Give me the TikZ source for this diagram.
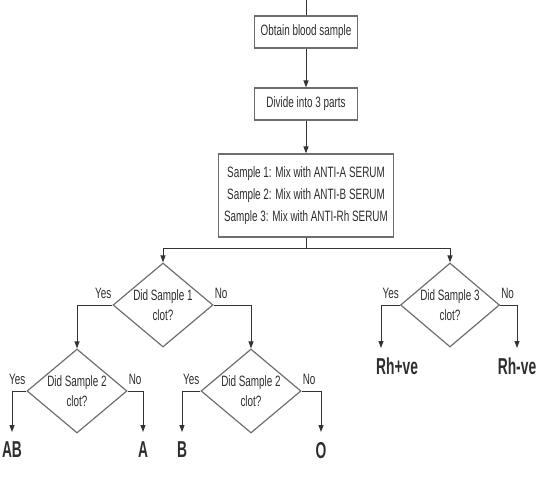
\documentclass[tikz,border=0pt]{standalone}
\usepackage{fontspec}
\setmainfont{Liberation Sans}[FakeStretch=0.66]
\newfontfamily\resfont{Liberation Sans Bold}[FakeStretch=0.6]
\usetikzlibrary{shapes.geometric,arrows.meta}
\definecolor{txt}{HTML}{2E2E2E}
\definecolor{bord}{HTML}{6E6E6E}
\definecolor{lin}{HTML}{333333}
\begin{document}
\begin{tikzpicture}[x=1pt,y=-1pt,
 every node/.style={text=txt},
 box/.style={draw=bord, line width=1.2pt, minimum width=103pt, minimum height=32pt, inner sep=0pt, font=\fontsize{15}{22}\selectfont, align=center},
 dec/.style={draw=bord, line width=1.2pt, diamond, aspect=1.19, minimum width=100pt, minimum height=84pt, inner sep=0pt, font=\fontsize{15}{20}\selectfont, align=center},
 lbl/.style={font=\fontsize{15}{16}\selectfont, inner sep=1pt},
 res/.style={font=\fontsize{23}{24}\resfont, inner sep=0pt, outer ysep=10pt},
 con/.style={draw=lin, line width=1pt},
 arr/.style={con, -{Triangle[length=7pt,width=5pt]}}]
\useasboundingbox (0,0) rectangle (546,479);
\coordinate (top) at (306,0);
\node[box] (b1) at (306,32) {Obtain blood sample};
\node[box] (b2) at (306,104) {Divide into 3 parts};
\node[box, minimum width=175pt, minimum height=83pt] (b3) at (306,195.5)
  {Sample 1: Mix with ANTI-A SERUM\\Sample 2: Mix with ANTI-B SERUM\\Sample 3: Mix with ANTI-Rh SERUM};
\coordinate (j) at (306,248);
\node[dec] (d1) at (163,305) {Did Sample 1\\clot?};
\node[dec] (d2) at (77,391) {Did Sample 2\\clot?};
\node[dec] (d3) at (251,391) {Did Sample 2\\clot?};
\node[dec, minimum width=99pt] (d4) at (450,305) {Did Sample 3\\clot?};
\node[res, anchor=north] (ab) at (12,432) {AB};
\node[res, anchor=north] (a) at (143,432) {A};
\node[res, anchor=north] (b) at (182,432) {B};
\node[res, anchor=north] (o) at (321,432) {O};
\node[res, anchor=north west] (rhp) at (376,348) {Rh+ve};
\node[res, anchor=north] (rhn) at (517,348) {Rh-ve};
% labels
\node[lbl, anchor=south east] at ([yshift=5pt]d1.west) {Yes};
\node[lbl, anchor=south west] at ([yshift=5pt]d1.east) {No};
\node[lbl, anchor=south east] at ([yshift=5pt]d2.west) {Yes};
\node[lbl, anchor=south west] at ([yshift=5pt]d2.east) {No};
\node[lbl, anchor=south east] at ([yshift=5pt]d3.west) {Yes};
\node[lbl, anchor=south west] at ([yshift=5pt]d3.east) {No};
\node[lbl, anchor=south east] at ([yshift=5pt]d4.west) {Yes};
\node[lbl, anchor=south west] at ([yshift=5pt]d4.east) {No};
% connectors
\draw[con] (top) -- (b1.north);
\draw[arr] (b1.south) -- (b2.north);
\draw[arr] (b2.south) -- (b3.north);
\draw[con] (b3.south) -- (j);
\draw[arr] (j) -| (d1.north);
\draw[arr] (j) -| (d4.north);
\draw[arr] (d1.west) -| (d2.north);
\draw[arr] (d1.east) -| (d3.north);
\draw[arr] (d2.west) -| (ab.north);
\draw[arr] (d2.east) -| (a.north);
\draw[arr] (d3.west) -| (b.north);
\draw[arr] (d3.east) -| (o.north);
\draw[arr] (d4.west) -| ([xshift=5pt]rhp.north west);
\draw[arr] (d4.east) -| (rhn.north);
\end{tikzpicture}
\end{document}
